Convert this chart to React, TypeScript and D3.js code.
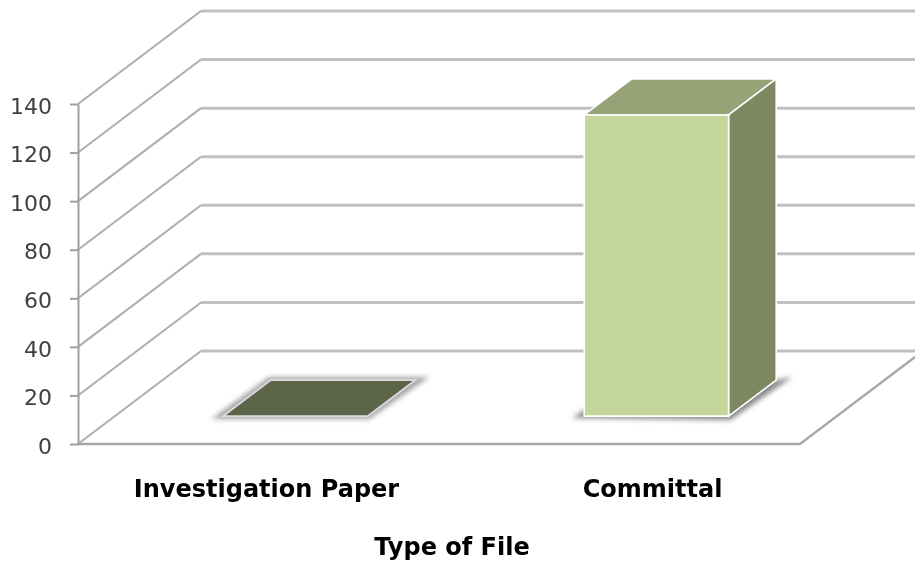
import React, { useEffect, useRef } from 'react';
import * as d3 from 'd3';

const categories = ['Investigation Paper', 'Committal'];
const values = [0, 124];
const faceColors = ['#5d6548', '#c5d69b'];
const topColors = ['#5d6548', '#97a377'];
const sideColors = ['#5d6548', '#7d8860'];
const yTicks = [0, 20, 40, 60, 80, 100, 120, 140];
const xTitle = 'Type of File';

const width = 915;
const height = 565;
const font = '"DejaVu Sans", Verdana, sans-serif';

// oblique projection of the 3d box
const depthX = 123;
const depthY = 93;
const barFront = 0.3;
const barBack = 0.687;

const x = d3.scaleBand().domain(categories).range([78, 800]).paddingInner(0.6).paddingOuter(0.3);
const y = d3.scaleLinear().domain([0, 140]).range([444, 104]);
const line = d3.line();

const project = (fx: number, depth: number, v: number): [number, number] => [
	fx + depthX * depth,
	y(v) - depthY * depth,
];

const poly = (pts: [number, number][]) => `${line(pts)}Z`;

const App = () => {
	const axisRef = useRef<SVGGElement>(null);

	useEffect(() => {
		const g = d3.select(axisRef.current);
		g.selectAll('*').remove();
		g.call(d3.axisLeft(y).tickValues(yTicks).tickSize(8).tickPadding(18).tickSizeOuter(0));
		g.selectAll('line,path').attr('stroke', '#a0a0a0').attr('stroke-width', 2);
		g.selectAll('text')
			.attr('fill', '#404040')
			.attr('dy', '0.42em')
			.style('font-family', font)
			.style('font-size', '22px');
	}, []);

	const bw = x.bandwidth();

	return (
		<svg
			width={width}
			height={height}
			style={{ position: 'absolute', left: 0, top: 0, background: '#fff' }}
		>
			<defs>
				<filter id="soft" x="-5%" y="-5%" width="110%" height="110%">
					<feGaussianBlur stdDeviation="0.7" />
				</filter>
				<filter id="shadow" x="-20%" y="-30%" width="140%" height="160%">
					<feGaussianBlur stdDeviation="2.5" />
				</filter>
			</defs>
			<g filter="url(#soft)">
				{yTicks.map((t) => (
					<g key={t}>
						<path
							d={line([project(78, 0, t), project(78, 1, t)]) ?? ''}
							fill="none"
							stroke="#adadad"
							strokeWidth={2}
						/>
						<path
							d={line([project(78, 1, t), project(800, 1, t)]) ?? ''}
							fill="none"
							stroke="#c0c0c0"
							strokeWidth={3}
						/>
					</g>
				))}
				<path
					d={line([project(78, 0, 0), project(800, 0, 0), project(800, 1, 0)]) ?? ''}
					fill="none"
					stroke="#a8a8a8"
					strokeWidth={2.4}
				/>
				<g ref={axisRef} transform="translate(78,0)" />
				{categories.map((c, i) => {
					const x0 = x(c) ?? 0;
					const x1 = x0 + bw;
					const v = values[i];
					const footprint: [number, number][] = [
						project(x0, barFront, 0),
						project(x1, barFront, 0),
						project(x1, barBack, 0),
						project(x0, barBack, 0),
					];
					const shadowPts: [number, number][] = v > 0
						? [
							[footprint[0][0] - 12, footprint[0][1] + 2],
							[footprint[1][0] + 2, footprint[1][1] + 4],
							[footprint[2][0] + 16, footprint[2][1] - 3],
							[footprint[2][0], footprint[2][1]],
							[footprint[0][0], footprint[0][1] - 6],
						]
						: [
							[footprint[0][0] - 12, footprint[0][1] + 3],
							[footprint[1][0] + 2, footprint[1][1] + 3],
							[footprint[2][0] + 14, footprint[2][1] - 3],
							[footprint[3][0] - 2, footprint[3][1] - 3],
						];
					return (
						<g key={c}>
							<path d={poly(shadowPts)} fill={v > 0 ? '#8a8a8a' : '#a6a6a6'} filter="url(#shadow)" />
							{v > 0 && (
								<>
									<path
										d={poly([
											project(x0, barFront, v),
											project(x1, barFront, v),
											project(x1, barBack, v),
											project(x0, barBack, v),
										])}
										fill={topColors[i]}
										stroke="#ffffff"
										strokeWidth={1.6}
									/>
									<path
										d={poly([
											project(x1, barFront, 0),
											project(x1, barBack, 0),
											project(x1, barBack, v),
											project(x1, barFront, v),
										])}
										fill={sideColors[i]}
										stroke="#ffffff"
										strokeWidth={1.6}
									/>
								</>
							)}
							{v > 0 ? (
								<path
									d={poly([
										project(x0, barFront, 0),
										project(x1, barFront, 0),
										project(x1, barFront, v),
										project(x0, barFront, v),
									])}
									fill={faceColors[i]}
									stroke="#ffffff"
									strokeWidth={1.6}
								/>
							) : (
								<path d={poly(footprint)} fill={faceColors[i]} stroke="#dddddd" strokeWidth={1.8} />
							)}
						</g>
					);
				})}
				{categories.map((c) => (
					<text
						key={c}
						x={(x(c) ?? 0) + bw / 2 + (c === 'Committal' ? 33 : 8)}
						y={497}
						textAnchor="middle"
						fontFamily={font}
						fontWeight="bold"
						fontSize={24}
						fill="#000"
					>
						{c}
					</text>
				))}
				<text
					x={452}
					y={555}
					textAnchor="middle"
					fontFamily={font}
					fontWeight="bold"
					fontSize={24}
					fill="#000"
				>
					{xTitle}
				</text>
			</g>
		</svg>
	);
};

export default App;
